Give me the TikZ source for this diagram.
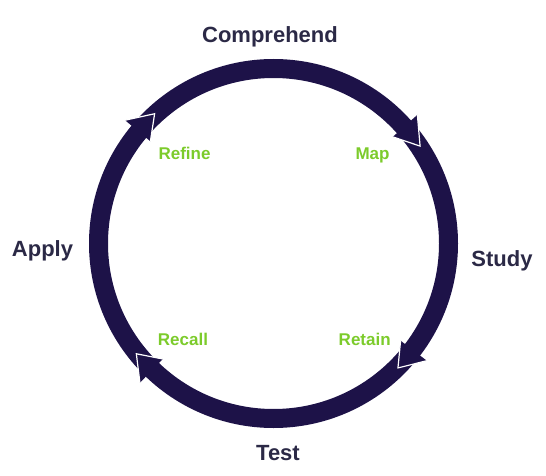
\documentclass[tikz,border=0pt]{standalone}
\usepackage{fontspec}
\setmainfont{Liberation Sans}
\definecolor{ringblue}{HTML}{1D1248}
\definecolor{stagegray}{HTML}{2B2946}
\definecolor{stepgreen}{HTML}{7CCB2B}
\begin{document}
\begin{tikzpicture}[x=1pt,y=1pt,
    stage/.style={font=\fontsize{22}{26}\selectfont\bfseries, text=stagegray, anchor=base},
    substage/.style={font=\fontsize{17}{20}\selectfont\bfseries, text=stepgreen, anchor=base},
    headedge/.style={white, line width=1.2pt}]

        \useasboundingbox (0,0) rectangle (546,-476);
        \coordinate (c) at (273.5,-243.5);

        \draw[ringblue, line width=19pt] (c) circle [radius=175];

        % arrowhead near Map
        \coordinate (tipA) at ([shift={(33.6:176)}]c);
        \coordinate (outA) at ([shift={(41.8:193)}]c);
        \coordinate (inA) at ([shift={(41.8:160)}]c);
        \fill[ringblue] (outA) -- (tipA) -- (inA) -- cycle;
        \draw[headedge] (outA) -- (tipA) -- (inA);

        % arrowhead near Retain
        \coordinate (tipB) at ([shift={(-45:176)}]c);
        \coordinate (outB) at ([shift={(-37.4:193)}]c);
        \coordinate (inB) at ([shift={(-37.4:160)}]c);
        \fill[ringblue] (outB) -- (tipB) -- (inB) -- cycle;
        \draw[headedge] (outB) -- (tipB) -- (inB);

        % arrowhead near Recall
        \coordinate (tipC) at ([shift={(-141.2:176)}]c);
        \coordinate (outC) at ([shift={(-133.8:193)}]c);
        \coordinate (inC) at ([shift={(-133.8:160)}]c);
        \fill[ringblue] (outC) -- (tipC) -- (inC) -- cycle;
        \draw[headedge] (outC) -- (tipC) -- (inC);

        % arrowhead near Refine
        \coordinate (tipD) at ([shift={(132.5:176)}]c);
        \coordinate (outD) at ([shift={(140.3:193)}]c);
        \coordinate (inD) at ([shift={(140.3:160)}]c);
        \fill[ringblue] (outD) -- (tipD) -- (inD) -- cycle;
        \draw[headedge] (outD) -- (tipD) -- (inD);

        \node[stage] (comprehend) at (270,-43) {Comprehend};
        \node[stage] (study) at (502,-266) {Study};
        \node[stage] (test) at (278,-460.7) {Test};
        \node[stage] (apply) at (42.5,-256.7) {Apply};

        \node[substage] (map) at (372.5,-159.5) {Map};
        \node[substage] (retain) at (364.7,-345) {Retain};
        \node[substage] (recall) at (183,-345) {Recall};
        \node[substage] (refine) at (184.5,-160) {Refine};
    \end{tikzpicture}
\end{document}
